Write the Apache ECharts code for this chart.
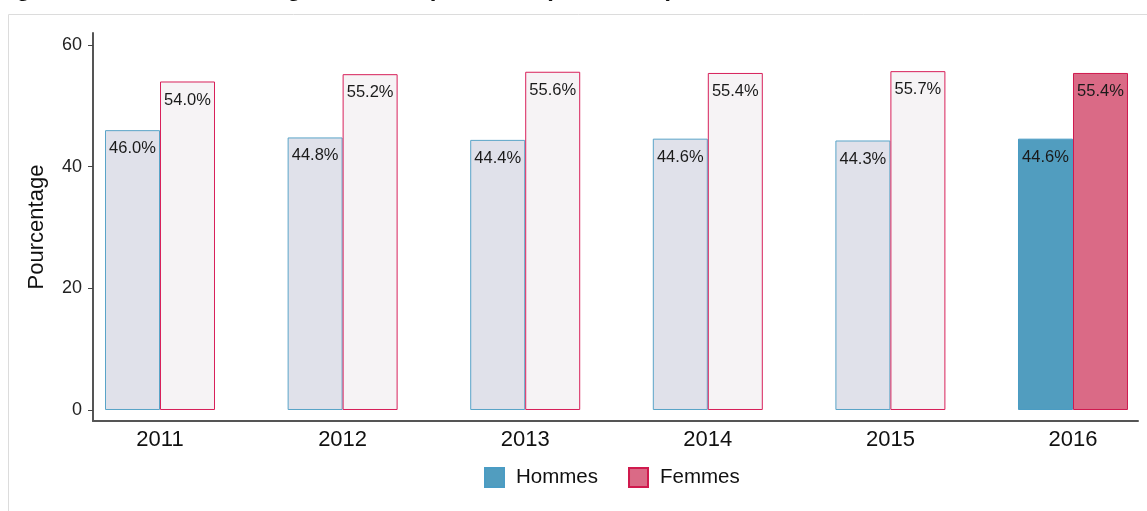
<!DOCTYPE html>
<html>
<head>
<meta charset="utf-8">
<script src="https://cdn.jsdelivr.net/npm/echarts@6/dist/echarts.min.js"></script>
<style>
  html, body { margin: 0; padding: 0; background: #fff; }
  #chart { width: 1147px; height: 511px; }
</style>
</head>
<body>
<div id="chart"></div>
<script>
// données
const years = ["2011", "2012", "2013", "2014", "2015", "2016"];
const hommes = [46.0, 44.8, 44.4, 44.6, 44.3, 44.6];
const femmes = [54.0, 55.2, 55.6, 55.4, 55.7, 55.4];
const yTicks = [0, 20, 40, 60];
const highlightYear = "2016";

const hommesColor = "#519dbf";
const femmesColor = "#da6a86";

// les années autres que 2016 sont estompées
const buildData = (values, fadedFill, border) =>
  values.map((v, i) => {
    const item = { value: [i, v] };
    if (years[i] !== highlightYear) {
      item.itemStyle = { color: fadedFill, borderColor: border };
    }
    return item;
  });

const barLabel = {
  show: true,
  position: "insideTop",
  distance: 10,
  fontSize: 16.5,
  color: "#1a1a1a",
  formatter: (p) => p.value[1].toFixed(1) + "%",
};

const myChart = echarts.init(document.getElementById("chart"));

myChart.setOption({
  animation: false,
  textStyle: { fontFamily: "Liberation Sans, Arial, sans-serif" },
  title: {
    text: "Figure 3 : Distribution du genre des répondants (2011-2016)",
    left: -10,
    top: -28,
    textStyle: { fontSize: 24, fontWeight: "bold", color: "#111" },
  },
  graphic: [
    {
      type: "rect",
      z: -10,
      silent: true,
      shape: { x: 8.5, y: 14.5, width: 1300, height: 700 },
      style: { fill: "none", stroke: "#dcdcdc", lineWidth: 1 },
    },
  ],
  grid: { left: 93, right: 9, top: 33, bottom: 90 },
  legend: {
    bottom: 18,
    left: 479,
    icon: "rect",
    itemWidth: 19,
    itemHeight: 19,
    itemGap: 30,
    textStyle: { fontSize: 20.5, color: "#111", padding: [0, 0, 0, 7] },
    data: ["Hommes", "Femmes"],
  },
  xAxis: {
    type: "value",
    min: -0.367,
    max: 5.356,
    splitLine: { show: false },
    axisLine: { show: true, onZero: false, lineStyle: { color: "#555", width: 2 } },
    axisTick: { show: false },
    axisLabel: {
      customValues: years.map((y, i) => i),
      formatter: (v) => years[Math.round(v)],
      fontSize: 22,
      color: "#111",
      margin: 8,
    },
  },
  yAxis: {
    type: "value",
    min: -1.81,
    max: 61.97,
    name: "Pourcentage",
    nameLocation: "middle",
    nameGap: 45,
    nameTextStyle: { fontSize: 22, color: "#111" },
    splitLine: { show: false },
    axisLine: { show: true, onZero: false, lineStyle: { color: "#555", width: 2 } },
    axisTick: {
      show: true,
      customValues: yTicks,
      length: 5,
      lineStyle: { color: "#444", width: 1 },
    },
    axisLabel: {
      customValues: yTicks,
      fontSize: 18,
      color: "#222",
      margin: 11,
    },
  },
  series: [
    {
      name: "Hommes",
      type: "bar",
      barWidth: 55,
      barGap: "0%",
      itemStyle: { color: hommesColor, borderColor: "#4a9cc4", borderWidth: 1 },
      label: barLabel,
      data: buildData(hommes, "#e0e1ea", "#5aa4c8"),
    },
    {
      name: "Femmes",
      type: "bar",
      barWidth: 55,
      barGap: "0%",
      itemStyle: { color: femmesColor, borderColor: "#d01a4e", borderWidth: 1 },
      label: barLabel,
      data: buildData(femmes, "#f6f3f5", "#d8205a"),
    },
  ],
});

window.addEventListener("resize", function () {
  myChart.resize();
});
</script>
</body>
</html>
